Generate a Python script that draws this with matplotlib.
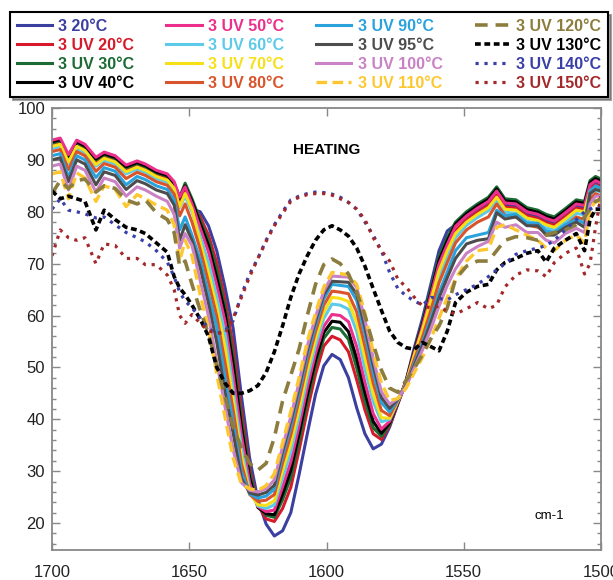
import matplotlib
matplotlib.use("Agg")
import matplotlib.pyplot as plt
from matplotlib.ticker import MultipleLocator

plt.rcParams['font.family'] = ['Liberation Sans', 'DejaVu Sans']

# wavenumber grid (cm-1), shared by all spectra
wn = [1700, 1697, 1694, 1691, 1688, 1684, 1681, 1677, 1673, 1669, 1666, 1662, 1658, 1655.5, 1653.5, 1651.5,
      1649, 1646, 1643, 1640, 1637, 1634, 1631, 1628, 1625, 1622, 1619,
      1616, 1613, 1610, 1607, 1604, 1601, 1598, 1595, 1592, 1589, 1586, 1583, 1580, 1577, 1574, 1571, 1568, 1565, 1562, 1559, 1556,
      1553, 1549, 1545, 1541, 1538, 1535, 1531, 1527, 1523, 1520, 1517, 1513, 1509, 1506, 1504, 1502, 1500]

s20 = [93.2, 93.6, 90.4, 93.2, 92.4, 89.9, 90.9, 90.2, 88.4, 89.2, 88.6, 87.4, 86.8, 85.3, 82.6, 84.0,
       80.5, 80.0, 77.3, 72.5, 65.5, 57.5, 44.5, 32.5, 24.5, 19.8, 17.5,
       18.5, 22.0, 29.3, 37.2, 44.8, 50.3, 52.5, 51.5, 48.0, 42.2, 37.2, 34.3, 35.2, 38.5, 43.0, 47.5, 53.8, 59.5, 66.0, 72.5, 76.3,
       77.5, 78.8, 80.3, 81.6, 83.6, 81.3, 81.1, 79.6, 79.1, 78.3, 77.8, 79.4, 81.1, 80.8, 84.8, 85.6, 85.1]
uv20 = [92.9, 93.3, 90.1, 92.9, 92.1, 89.6, 90.6, 89.9, 88.1, 88.9, 88.3, 87.1, 86.4, 84.9, 82.0, 84.3,
        81.5, 79.0, 75.5, 70.2, 63.1, 54.1, 41.7, 30.6, 23.5, 20.8, 20.3,
        22.8, 26.9, 34.0, 41.7, 48.7, 54.1, 56.0, 55.3, 53.0, 47.6, 41.8, 37.2, 36.1, 38.8, 43.0, 47.1, 52.6, 57.6, 63.4, 69.3, 73.1,
        76.4, 78.4, 79.9, 81.2, 83.2, 80.9, 80.7, 79.2, 78.7, 77.9, 77.4, 79.0, 80.7, 80.4, 84.4, 85.2, 84.7]
uv30 = [93.3, 93.7, 90.5, 93.3, 92.5, 90.0, 91.0, 90.3, 88.5, 89.3, 88.7, 87.5, 86.9, 85.4, 82.8, 85.5,
        82.5, 78.3, 74.4, 68.8, 61.7, 52.3, 40.1, 29.8, 23.5, 21.5, 21.1,
        24.5, 28.8, 35.8, 43.4, 50.3, 55.6, 57.7, 57.4, 55.4, 49.9, 43.6, 38.4, 36.7, 39.0, 43.2, 47.4, 53.3, 58.8, 65.0, 71.2, 75.0,
        78.0, 80.0, 81.5, 82.8, 84.8, 82.5, 82.3, 80.8, 80.3, 79.5, 79.0, 80.6, 82.3, 82.0, 86.0, 86.8, 86.3]
uv40 = [93.5, 93.9, 90.7, 93.5, 92.7, 90.2, 91.2, 90.5, 88.7, 89.5, 88.9, 87.7, 87.0, 85.5, 82.6, 85.0,
        82.0, 77.7, 73.5, 67.3, 60.5, 50.5, 38.5, 28.7, 23.0, 21.8, 21.6,
        25.6, 30.2, 37.2, 44.7, 51.4, 56.7, 58.9, 58.7, 56.9, 51.7, 45.2, 39.6, 37.3, 39.3, 43.3, 47.3, 53.1, 58.4, 64.4, 70.6, 74.4,
        77.6, 79.6, 81.1, 82.4, 84.4, 82.1, 81.9, 80.4, 79.9, 79.1, 78.6, 80.2, 81.9, 81.6, 85.6, 86.4, 85.9]
uv50 = [93.8, 94.2, 91.0, 93.8, 93.0, 90.5, 91.5, 90.8, 89.0, 89.8, 89.2, 88.0, 87.3, 85.8, 82.8, 84.8,
        81.5, 76.8, 72.3, 65.8, 58.9, 48.4, 36.9, 27.7, 23.2, 22.2, 22.5,
        27.0, 31.8, 38.7, 46.1, 52.7, 57.9, 60.2, 60.0, 58.8, 54.0, 47.1, 41.1, 38.1, 39.6, 43.4, 47.2, 52.8, 58.0, 63.9, 69.9, 73.7,
        77.2, 79.2, 80.7, 82.0, 84.0, 81.7, 81.5, 80.0, 79.5, 78.7, 78.2, 79.8, 81.5, 81.2, 85.2, 86.0, 85.5]
uv60 = [92.2, 92.6, 89.3, 92.2, 91.4, 88.8, 89.9, 89.2, 87.3, 88.2, 87.6, 86.4, 85.7, 84.1, 80.8, 83.0,
        80.0, 75.2, 70.2, 63.6, 56.6, 45.7, 34.5, 26.4, 23.3, 22.8, 23.5,
        28.7, 33.7, 40.5, 47.9, 54.2, 59.4, 62.2, 62.0, 61.2, 56.9, 49.7, 43.4, 39.5, 40.0, 43.5, 46.9, 52.0, 56.7, 62.0, 67.6, 71.4,
        75.0, 77.4, 78.9, 80.2, 82.2, 79.9, 79.7, 78.2, 77.7, 76.9, 76.5, 78.0, 79.7, 79.4, 83.4, 84.2, 83.7]
uv70 = [92.6, 93.0, 89.6, 92.6, 91.8, 89.1, 90.3, 89.6, 87.7, 88.6, 88.0, 86.8, 86.1, 84.5, 81.0, 83.5,
        80.5, 74.1, 68.3, 61.7, 54.1, 43.7, 32.9, 25.8, 23.5, 23.4, 24.3,
        30.1, 35.3, 42.0, 49.3, 55.5, 60.6, 63.5, 63.3, 62.7, 58.7, 51.8, 44.9, 40.3, 40.2, 43.6, 47.0, 52.4, 57.3, 62.9, 68.6, 72.5,
        75.8, 78.0, 79.5, 80.8, 82.8, 80.5, 80.3, 78.8, 78.3, 77.5, 77.0, 78.6, 80.3, 80.0, 84.0, 84.8, 84.3]
uv80 = [91.6, 92.0, 88.1, 91.6, 90.8, 87.8, 89.3, 88.6, 86.4, 87.6, 87.0, 85.8, 85.1, 83.4, 79.2, 81.5,
        78.0, 72.7, 66.4, 59.9, 51.0, 41.7, 31.4, 25.5, 24.2, 24.4, 25.5,
        31.6, 37.0, 43.7, 50.9, 56.9, 62.0, 64.7, 64.5, 64.2, 60.7, 54.1, 47.0, 41.7, 40.7, 43.7, 46.8, 51.5, 55.9, 61.0, 66.3, 70.2,
        74.0, 76.5, 78.0, 79.0, 81.5, 79.3, 79.0, 77.5, 77.0, 76.0, 75.8, 77.3, 79.0, 78.5, 82.5, 83.5, 83.0]
uv90 = [90.8, 91.2, 86.7, 90.8, 90.0, 86.6, 88.5, 87.8, 85.2, 86.8, 86.2, 85.0, 84.3, 82.3, 76.5, 79.0,
        75.5, 70.7, 64.1, 57.8, 48.0, 39.3, 29.8, 25.6, 24.8, 25.2, 26.5,
        33.0, 38.6, 45.2, 52.3, 58.1, 63.2, 66.0, 65.8, 65.6, 62.9, 56.4, 49.0, 43.2, 41.4, 43.8, 46.6, 50.8, 54.9, 59.5, 64.4, 68.4,
        72.5, 75.0, 75.5, 76.0, 80.3, 79.2, 79.5, 77.8, 77.8, 76.3, 76.0, 77.5, 78.5, 77.8, 84.0, 85.0, 84.5]
uv95 = [90.0, 90.4, 85.8, 90.0, 89.2, 85.2, 87.7, 87.0, 84.3, 86.0, 85.4, 84.2, 83.5, 81.3, 74.5, 77.5,
        74.5, 69.2, 62.3, 54.9, 45.3, 37.3, 28.6, 25.8, 25.4, 25.9, 27.3,
        33.8, 39.6, 46.1, 53.2, 58.9, 64.0, 66.6, 66.5, 66.4, 64.1, 57.7, 50.4, 44.2, 42.1, 43.9, 46.5, 50.4, 54.3, 58.7, 63.4, 67.3,
        71.0, 73.8, 74.5, 74.8, 79.8, 78.6, 79.0, 77.3, 77.3, 75.5, 75.5, 77.0, 78.0, 77.0, 83.5, 84.3, 84.0]
uv100 = [88.8, 89.2, 84.2, 88.8, 88.0, 83.8, 86.5, 85.8, 83.0, 84.8, 84.2, 83.0, 82.0, 79.5, 73.0, 75.8,
         73.5, 66.7, 59.9, 51.1, 42.5, 34.1, 27.8, 26.3, 26.0, 26.6, 28.3,
         34.7, 40.5, 47.1, 54.1, 59.7, 64.7, 67.6, 67.5, 67.4, 65.4, 59.2, 51.7, 45.3, 42.9, 44.0, 46.3, 49.9, 53.4, 57.4, 61.8, 65.8,
         69.0, 72.0, 73.3, 74.3, 78.0, 77.0, 77.5, 76.0, 76.0, 74.5, 74.0, 75.8, 76.8, 76.0, 81.5, 83.0, 83.0]
uv110 = [87.3, 87.7, 82.5, 87.5, 86.5, 82.0, 85.0, 84.3, 81.0, 83.3, 82.5, 81.3, 80.3, 77.5, 70.5, 74.5,
         71.5, 64.0, 57.5, 48.8, 40.5, 32.5, 27.5, 26.6, 26.3, 27.2, 29.5,
         35.5, 41.5, 48.0, 55.0, 60.5, 65.5, 68.3, 68.1, 67.8, 66.0, 60.5, 53.0, 47.0, 43.6, 44.0, 46.0, 49.0, 52.0, 55.5, 59.5, 63.5,
         67.0, 70.5, 72.5, 72.8, 77.0, 77.5, 76.5, 75.5, 74.5, 73.0, 72.5, 74.5, 75.5, 74.0, 80.5, 82.0, 82.0]
uv120 = [83.5, 86.0, 84.5, 86.0, 86.3, 83.8, 85.0, 84.5, 82.3, 81.5, 82.3, 79.8, 78.5, 76.0, 69.5, 70.5,
         66.0, 61.0, 56.5, 50.5, 44.5, 38.5, 34.5, 31.5, 30.2, 31.5, 36.5,
         43.5, 48.5, 53.5, 60.0, 66.0, 69.8, 70.9, 70.0, 68.0, 64.5, 60.0, 54.5, 49.5, 46.0, 45.2, 47.5, 49.8, 52.5, 55.5, 58.0, 61.5,
         67.0, 69.5, 70.5, 70.5, 72.5, 74.5, 75.2, 75.0, 74.5, 75.5, 76.0, 76.5, 77.5, 79.0, 80.5, 82.0, 82.5]
uv130 = [84.0, 82.5, 83.0, 82.5, 82.0, 76.5, 80.3, 78.5, 77.0, 76.5, 75.8, 74.0, 72.2, 67.5, 65.3, 64.0,
         62.0, 59.3, 56.0, 50.0, 47.0, 45.0, 45.0, 45.5, 46.5, 49.0, 53.0,
         58.0, 63.5, 68.0, 71.5, 74.5, 76.5, 77.3, 76.5, 75.3, 73.0, 69.5, 65.2, 61.0, 57.0, 54.8, 53.8, 53.5, 54.8, 54.0, 53.2, 57.0,
         62.5, 64.5, 65.6, 66.0, 68.8, 70.2, 71.0, 72.0, 72.5, 70.3, 73.0, 74.5, 75.8, 72.5, 78.5, 80.5, 80.5]
uv140 = [80.5, 82.5, 80.3, 80.0, 79.6, 78.8, 79.0, 77.5, 76.0, 75.0, 74.2, 72.5, 70.3, 67.5, 64.5, 62.8,
         61.5, 59.5, 57.5, 56.5, 57.0, 59.0, 64.0, 68.0, 71.0, 74.5, 77.5,
         80.0, 82.3, 83.0, 83.5, 83.8, 83.7, 83.4, 82.8, 81.8, 80.5, 78.0, 75.5, 72.5, 68.3, 65.2, 63.8, 62.8, 62.0, 63.5, 63.3, 63.0,
         64.0, 65.0, 66.0, 67.5, 68.8, 70.0, 71.8, 72.5, 73.0, 73.5, 74.5, 76.5, 78.5, 80.0, 80.5, 81.0, 81.0]
uv150 = [71.5, 76.5, 75.0, 74.5, 75.0, 70.0, 73.8, 73.5, 71.0, 71.0, 69.8, 69.8, 67.8, 65.0, 60.0, 58.5,
         60.2, 58.5, 57.0, 56.7, 56.5, 59.5, 63.5, 67.5, 71.0, 74.3, 77.3,
         79.7, 82.0, 82.8, 83.3, 83.5, 83.5, 83.2, 82.5, 81.8, 80.5, 78.5, 75.0, 72.5, 70.5, 67.0, 65.5, 63.5, 61.8, 61.5, 61.8, 60.8,
         60.3, 61.3, 62.5, 61.3, 62.0, 65.5, 67.8, 68.8, 68.6, 67.5, 70.2, 72.0, 73.0, 68.0, 70.0, 77.0, 83.0]

# label, values, colour, dash pattern, width
series = [
    ('3 20°C', s20, '#3b3f9f', '-', 2.2),
    ('3 UV 20°C', uv20, '#d71a2b', '-', 2.2),
    ('3 UV 30°C', uv30, '#1c6b35', '-', 2.2),
    ('3 UV 40°C', uv40, '#000000', '-', 2.2),
    ('3 UV 50°C', uv50, '#ec2f8c', '-', 2.2),
    ('3 UV 60°C', uv60, '#5ccbe9', '-', 2.2),
    ('3 UV 70°C', uv70, '#f7e017', '-', 2.2),
    ('3 UV 80°C', uv80, '#d9532b', '-', 2.2),
    ('3 UV 90°C', uv90, '#2aa3dc', '-', 2.2),
    ('3 UV 95°C', uv95, '#4d4d4d', '-', 2.2),
    ('3 UV 100°C', uv100, '#c982c5', '-', 2.2),
    ('3 UV 110°C', uv110, '#fdc82f', (0, (3.2, 1.6)), 2.4),
    ('3 UV 120°C', uv120, '#8c7d3e', (0, (3.5, 2.2)), 2.6),
    ('3 UV 130°C', uv130, '#000000', (0, (1.6, 1.0)), 2.6),
    ('3 UV 140°C', uv140, '#3a3fa8', (0, (1.0, 1.8)), 2.3),
    ('3 UV 150°C', uv150, '#a3282a', (0, (1.0, 1.8)), 2.3),
]

fig = plt.figure(figsize=(6.13, 5.8), dpi=100)
ax = fig.add_axes([52/613, 30/580, 549/613, 442/580])

handles = []
for label, vals, col, ls, lw in series:
    h, = ax.plot(wn, vals, color=col, linestyle=ls, linewidth=lw, label=label)
    handles.append(h)

ax.set_xlim(1700, 1500)
ax.set_ylim(14.8, 100)
ax.set_xticks([1700, 1650, 1600, 1550, 1500])
ax.yaxis.set_major_locator(MultipleLocator(10))
ax.yaxis.set_minor_locator(MultipleLocator(2))
ax.set_yticks(range(20, 101, 10))
ax.tick_params(axis='both', which='both', direction='in', top=True, right=True,
               color='#888888', labelcolor='#222222', labelsize=12)
ax.tick_params(axis='y', which='major', length=6, width=1, pad=5)
ax.tick_params(axis='y', which='minor', length=3, width=1)
ax.tick_params(axis='x', which='major', length=6, width=1, pad=11)
for sp in ax.spines.values():
    sp.set_color('#888888')
    sp.set_linewidth(1.3)

ax.text(1600, 92.0, 'HEATING', fontsize=11, fontweight='bold', ha='center', va='center')
ax.text(1519, 21.4, 'cm-1', fontsize=9.5, ha='center', va='center')

leg = ax.legend(handles=handles, ncol=4, loc='upper left',
                bbox_to_anchor=(10/613, 1 - 12/580, 598/613, 0.0),
                bbox_transform=fig.transFigure, mode='expand', borderaxespad=0,
                prop={'weight': 'bold', 'size': 11.5}, labelcolor='linecolor',
                handlelength=2.2, handletextpad=0.4, labelspacing=0.25,
                borderpad=0.42, fancybox=False, shadow=True, frameon=True)
leg.get_frame().set_edgecolor('black')
leg.get_frame().set_linewidth(1.5)

fig.savefig('out.png', dpi=100)
